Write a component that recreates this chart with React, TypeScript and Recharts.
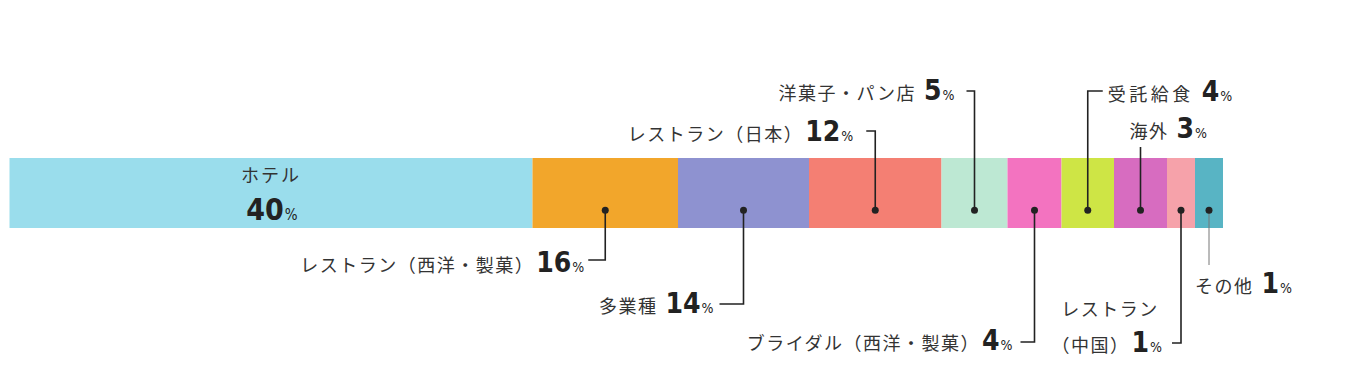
import React from 'react';
import { BarChart, Bar, XAxis, YAxis } from 'recharts';

// categories in bar order, left to right
const categories = [
  'ホテル',
  'レストラン（西洋・製菓）',
  '多業種',
  'レストラン（日本）',
  '洋菓子・パン店',
  'ブライダル（西洋・製菓）',
  '受託給食',
  '海外',
  'レストラン（中国）',
  'その他',
];
// percentages printed on the labels
const shareLabels = [40, 16, 14, 12, 5, 4, 4, 3, 1, 1];
// segment lengths as drawn (the bar is not drawn to scale with the labels)
const segmentLengths = [523, 145.5, 131, 132.5, 66, 54, 52.5, 53, 28, 28];
const colors = [
  '#9addec',
  '#f2a62b',
  '#8e92d0',
  '#f47f73',
  '#bde8d3',
  '#f373c0',
  '#cee545',
  '#d76cc0',
  '#f6a2aa',
  '#58b4c4',
];

const keys = categories.map((_, i) => `s${i}`);
const rows = [
  {
    name: 'all',
    ...Object.fromEntries(keys.map((k, i) => [k, segmentLengths[i]])),
  },
];
const total = segmentLengths.reduce((a, b) => a + b, 0);

const JP = "'Noto Sans CJK JP', 'Noto Sans', sans-serif";
const NUM = "'Liberation Sans Narrow', 'DejaVu Sans Condensed', 'Roboto', sans-serif";
const INK = '#222';

// callout layout: y values are relative to the bar top, x values to the segment centre
type Callout = {
  elbow: number;
  stub?: number;
  tx: number;
  ty: number;
  anchor: 'start' | 'end';
  ls?: number;
  firstLine?: { text: string; tx: number; ty: number };
  name?: string;
  faint?: boolean;
};

const callouts: (Callout | null)[] = [
  null,
  { elbow: 102, stub: -17, tx: -21, ty: 114, anchor: 'end' },
  { elbow: 146, stub: -24, tx: -30, ty: 155, anchor: 'end' },
  { elbow: -27, stub: -9, tx: -22, ty: -17, anchor: 'end' },
  { elbow: -67, stub: -8, tx: -20, ty: -58, anchor: 'end' },
  { elbow: 184, stub: -14, tx: -22, ty: 192, anchor: 'end' },
  { elbow: -67, stub: 15, tx: 20, ty: -57, anchor: 'start', ls: 3.5 },
  { elbow: -11, tx: -11, ty: -20, anchor: 'start' },
  {
    elbow: 185,
    stub: -9,
    tx: -19,
    ty: 194,
    anchor: 'end',
    name: '（中国）',
    firstLine: { text: 'レストラン', tx: -71, ty: 158 },
  },
  { elbow: 107, tx: -14, ty: 135, anchor: 'start', faint: true },
];

function LabelText({ x, y, anchor, name, pct, ls = 1.5, big = 28 }: any) {
  const gap = name.endsWith('）') ? 2 : 8;
  return (
    <text x={x} y={y} textAnchor={anchor} fill={INK}>
      <tspan fontFamily={JP} fontSize={18} letterSpacing={ls} fill="#333">
        {name}
      </tspan>
      <tspan dx={gap} fontFamily={NUM} fontWeight={700} fontSize={big}>
        {pct}
      </tspan>
      <tspan dx={1} fontFamily={NUM} fontSize={14}>
        %
      </tspan>
    </text>
  );
}

function Segment(props: any) {
  const { x, y, width, height, fill, index } = props;
  const i = index ?? 0;
  const idx = typeof props.segIndex === 'number' ? props.segIndex : i;
  const cx = x + width / 2;
  const dotY = y + height * 0.745;
  const c = callouts[idx];

  if (!c) {
    return (
      <g>
        <rect x={x} y={y} width={width} height={height} fill={fill} />
        <text x={cx} y={y + 24} textAnchor="middle" fontFamily={JP} fontSize={18} letterSpacing={2} fill="#333">
          {categories[idx]}
        </text>
        <text x={cx + 1} y={y + 62} textAnchor="middle" fill={INK}>
          <tspan fontFamily={NUM} fontWeight={700} fontSize={30}>
            {shareLabels[idx]}
          </tspan>
          <tspan dx={1} fontFamily={NUM} fontSize={15}>
            %
          </tspan>
        </text>
      </g>
    );
  }

  const ey = y + c.elbow;
  const stroke = c.faint ? '#777' : INK;
  const sw = c.faint ? 1 : 1.6;
  const pts = c.stub !== undefined ? `${cx},${dotY} ${cx},${ey} ${cx + c.stub},${ey}` : `${cx},${dotY} ${cx},${ey}`;

  return (
    <g>
      <rect x={x} y={y} width={width} height={height} fill={fill} />
      <polyline points={pts} fill="none" stroke={stroke} strokeWidth={sw} />
      <circle cx={cx} cy={dotY} r={3.5} fill={INK} />
      {c.firstLine && (
        <text
          x={cx + c.firstLine.tx}
          y={y + c.firstLine.ty}
          textAnchor="middle"
          fontFamily={JP}
          fontSize={18}
          letterSpacing={1.5}
          fill="#333"
        >
          {c.firstLine.text}
        </text>
      )}
      <LabelText
        x={cx + c.tx}
        y={y + c.ty}
        anchor={c.anchor}
        name={c.name ?? categories[idx]}
        pct={shareLabels[idx]}
        ls={c.ls}
      />
    </g>
  );
}

export default function App() {
  return (
    <div style={{ position: 'absolute', left: 0, top: 0, width: 1354, height: 369, background: '#fff' }}>
      <BarChart
        width={1354}
        height={369}
        data={rows}
        layout="vertical"
        barCategoryGap={0}
        margin={{ top: 158, right: 131, bottom: 141, left: 9.5 }}
      >
        <XAxis type="number" hide domain={[0, total]} />
        <YAxis type="category" dataKey="name" hide />
        {keys.map((k, i) => (
          <Bar
            key={k}
            dataKey={k}
            stackId="a"
            fill={colors[i]}
            isAnimationActive={false}
            shape={(p: any) => <Segment {...p} segIndex={i} />}
          />
        ))}
      </BarChart>
    </div>
  );
}
